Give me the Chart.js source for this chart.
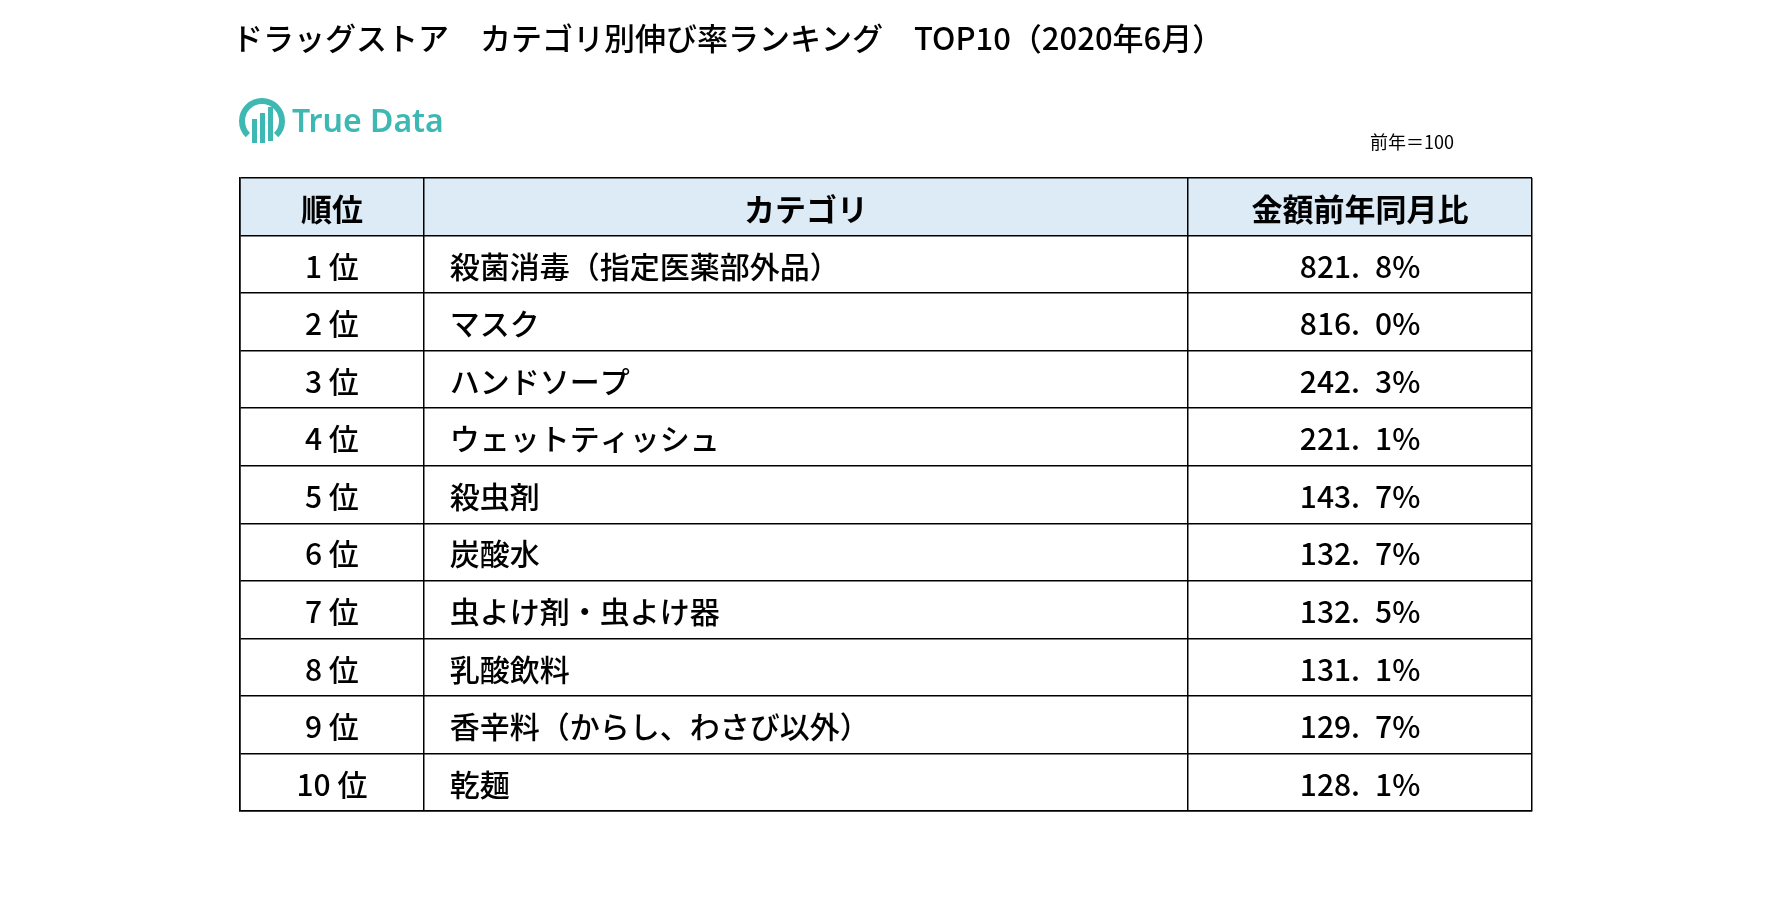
<!DOCTYPE html>
<html><head><meta charset="utf-8">
<script src="https://cdn.jsdelivr.net/npm/chart.js@4"></script>
<style>html,body{margin:0;padding:0;background:#fff}#w{width:1773px;height:905px}</style>
</head><body><div id="w"><canvas id="c"></canvas></div>
<script>
const title = "ドラッグストア　カテゴリ別伸び率ランキング　TOP10（2020年6月）";
const headers = ["順位", "カテゴリ", "金額前年同月比"];
const ranks = ["1 位","2 位","3 位","4 位","5 位","6 位","7 位","8 位","9 位","10 位"];
const categories = ["殺菌消毒（指定医薬部外品）","マスク","ハンドソープ","ウェットティッシュ","殺虫剤","炭酸水","虫よけ剤・虫よけ器","乳酸飲料","香辛料（からし、わさび以外）","乾麺"];
const values = [821.8, 816.0, 242.3, 221.1, 143.7, 132.7, 132.5, 131.1, 129.7, 128.1];
const colEdges = [0, 185, 954, 1300];
const note = "前年＝100";

const FONT = '"Noto Sans CJK JP", "Noto Sans", sans-serif';
const fmt = v => { const s = v.toFixed(1).split('.'); return s[0] + '.\u2002' + s[1] + '%'; };

const tablePlugin = {
  id: 'tbl',
  beforeDraw(chart) {
    const {ctx, scales:{x,y}} = chart;
    ctx.save();
    ctx.fillStyle = '#DDEBF7';
    ctx.fillRect(x.getPixelForValue(0), y.getPixelForValue(0), x.getPixelForValue(1300)-x.getPixelForValue(0), y.getPixelForValue(1)-y.getPixelForValue(0));
    ctx.restore();
  },
  afterDraw(chart) {
    const {ctx, scales:{x,y}} = chart;
    ctx.save();
    ctx.fillStyle = '#000';
    ctx.textBaseline = 'middle';
    ctx.font = '500 31px ' + FONT;
    ctx.textAlign = 'left';
    ctx.fillText(title, 232, 38);
    const lx = 262, ly = 121;
    ctx.strokeStyle = '#3DB8B2'; ctx.lineWidth = 6;
    ctx.beginPath(); ctx.arc(lx, ly, 20, Math.PI*0.75, Math.PI*2.25); ctx.stroke();
    ctx.fillStyle = '#3DB8B2';
    ctx.fillRect(lx-10, ly-2, 5, 24); ctx.fillRect(lx-2, ly-8, 5, 30); ctx.fillRect(lx+6, ly-14, 5, 34);
    ctx.font = '600 32px "Noto Sans", sans-serif';
    ctx.fillText('True Data', 292, 123);
    ctx.fillStyle = '#000';
    ctx.font = '18px ' + FONT;
    ctx.fillText(note, 1370, 142);
    const cx = i => (x.getPixelForValue(colEdges[i]) + x.getPixelForValue(colEdges[i+1]))/2;
    ctx.textAlign = 'center';
    ctx.font = 'bold 31px ' + FONT;
    headers.forEach((h,i) => ctx.fillText(h, cx(i), y.getPixelForValue(0.5)+2));
    ctx.font = '500 30px ' + FONT;
    chart.data.datasets[0].data.forEach((p, r) => {
      const yy = y.getPixelForValue(p.y) + 2;
      ctx.textAlign = 'center';
      ctx.fillText(ranks[r], cx(0), yy);
      ctx.textAlign = 'left';
      ctx.fillText(categories[r], x.getPixelForValue(colEdges[1]) + 26, yy);
      ctx.textAlign = 'center';
      ctx.fillText(fmt(values[r]), cx(2), yy);
    });
    ctx.restore();
  }
};

new Chart(document.getElementById('c'), {
  type: 'scatter',
  data: { datasets: [{ data: values.map((v,i)=>({x: (colEdges[2]+colEdges[3])/2, y: i+1.5})), pointRadius: 0 }] },
  options: {
    responsive: true, maintainAspectRatio: false, animation: false,
    layout: { padding: { left: 240, right: 241, top: 178, bottom: 94 } },
    plugins: { legend: {display:false}, tooltip: {enabled:false} },
    scales: {
      x: { type:'linear', min:0, max:1300,
        afterBuildTicks: s => { s.ticks = colEdges.map(v=>({value:v})); },
        ticks: { display:false }, grid: { color:'#000', lineWidth:1.5, drawTicks:false },
        border: { color:'#000', width:1.5 } },
      y: { type:'linear', min:0, max:11, reverse:true,
        afterBuildTicks: s => { s.ticks = Array.from({length:12},(_,i)=>({value:i})); },
        ticks: { display:false }, grid: { color:'#000', lineWidth:1.5, drawTicks:false },
        border: { color:'#000', width:1.5 } }
    }
  },
  plugins: [tablePlugin]
});
</script></body></html>
